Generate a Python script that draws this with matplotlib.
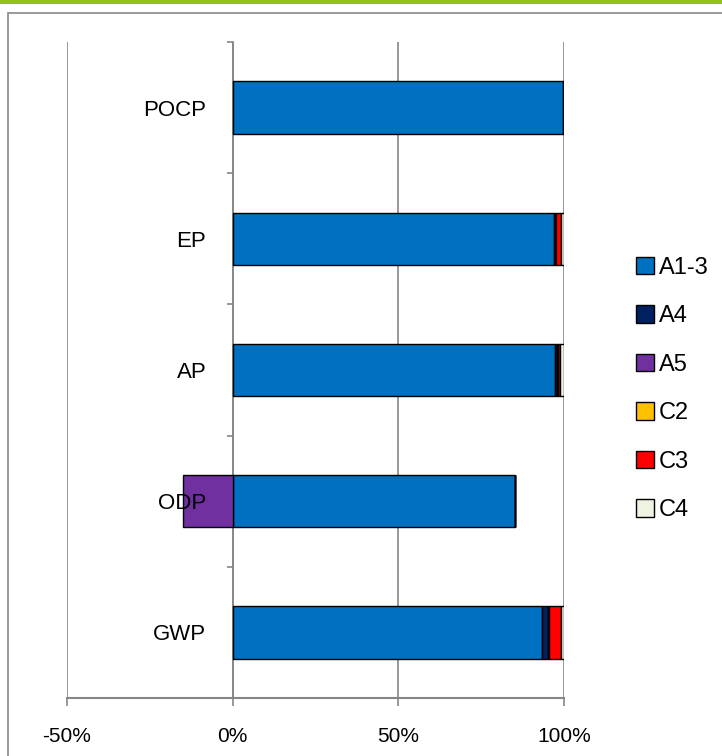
import matplotlib
matplotlib.use('Agg')
import matplotlib.pyplot as plt
from matplotlib.patches import Patch, Rectangle
import numpy as np

plt.rcParams['font.family'] = ['Liberation Sans', 'DejaVu Sans']

categories = ['GWP', 'ODP', 'AP', 'EP', 'POCP']
stages = ['A1-3', 'A4', 'A5', 'C2', 'C3', 'C4']
colors = ['#0070C0', '#002060', '#7030A0', '#FFC000', '#FF0000', '#EEF3E2']

# share of each stage per impact category, in %
a13 = [93.5, 85.2, 97.3, 97.0, 99.6]
a4 = [1.8, 0.0, 0.7, 0.5, 0.3]
a5 = [0.0, -15.0, 0.0, 0.0, 0.0]
c2 = [0.2, 0.0, 0.3, 0.2, 0.0]
c3 = [3.5, 0.0, 0.5, 1.3, 0.0]
c4 = [1.0, 0.0, 1.2, 1.0, 0.1]
series = [a13, a4, a5, c2, c3, c4]

xticks = [-50, 0, 50, 100]
xtick_labels = ['-50%', '0%', '50%', '100%']

fig = plt.figure(figsize=(7.22, 7.56), dpi=100)

# outer chart frame and green band on top
fig.patches.append(Rectangle((8 / 722, -0.1), 1.2, 1 - 13 / 756 + 0.1, transform=fig.transFigure,
                             fill=False, edgecolor='#898989', linewidth=1.2))
fig.patches.append(Rectangle((0, 1 - 3.5 / 756), 1, 3.5 / 756, transform=fig.transFigure,
                             facecolor='#94C11C', edgecolor='none'))

ax = fig.add_axes([67 / 722, 58 / 756, (564 - 67) / 722, (698 - 42) / 756])

y = np.arange(len(categories))
pos_left = np.zeros(len(categories))
neg_left = np.zeros(len(categories))
for vals, col in zip(series, colors):
    vals = np.array(vals)
    left = np.where(vals >= 0, pos_left, neg_left)
    ax.barh(y, vals, left=left, height=0.4, color=col, edgecolor='black', linewidth=1, zorder=3)
    pos_left += np.clip(vals, 0, None)
    neg_left += np.clip(vals, None, 0)

ax.set_xlim(-50, 100)
ax.set_ylim(-0.5, len(categories) - 0.5)
ax.set_xticks(xticks, xtick_labels)
ax.grid(axis='x', color='#868686', linewidth=1.2, zorder=0)

ax.set_yticks(y, categories)
ax.set_yticks(np.arange(len(categories) + 1) - 0.5, minor=True)
ax.tick_params(axis='y', which='major', length=0, pad=19, labelsize=16)
ax.tick_params(axis='y', which='minor', length=4.5, direction='out', color='#868686', width=1.2)
ax.tick_params(axis='x', length=6, direction='out', color='#868686', width=1.2, pad=15, labelsize=15)
# category labels sit on top of the bars (ODP overlaps the negative A5 part)
ax.yaxis.set_zorder(5)

for s in ['top', 'right']:
    ax.spines[s].set_visible(False)
ax.spines['left'].set_position(('data', 0))
ax.spines['left'].set_color('#868686')
ax.spines['left'].set_linewidth(1.2)
ax.spines['bottom'].set_color('#868686')
ax.spines['bottom'].set_linewidth(1.5)

handles = [Patch(facecolor=c, edgecolor='black', linewidth=1) for c in colors]
fig.legend(handles, stages, loc='center left', bbox_to_anchor=(627 / 722, 1 - 389 / 756),
           frameon=False, fontsize=17, handlelength=0.75, handleheight=0.75,
           handletextpad=0.2, labelspacing=1.12, borderaxespad=0)

fig.savefig('out.png', dpi=100)
